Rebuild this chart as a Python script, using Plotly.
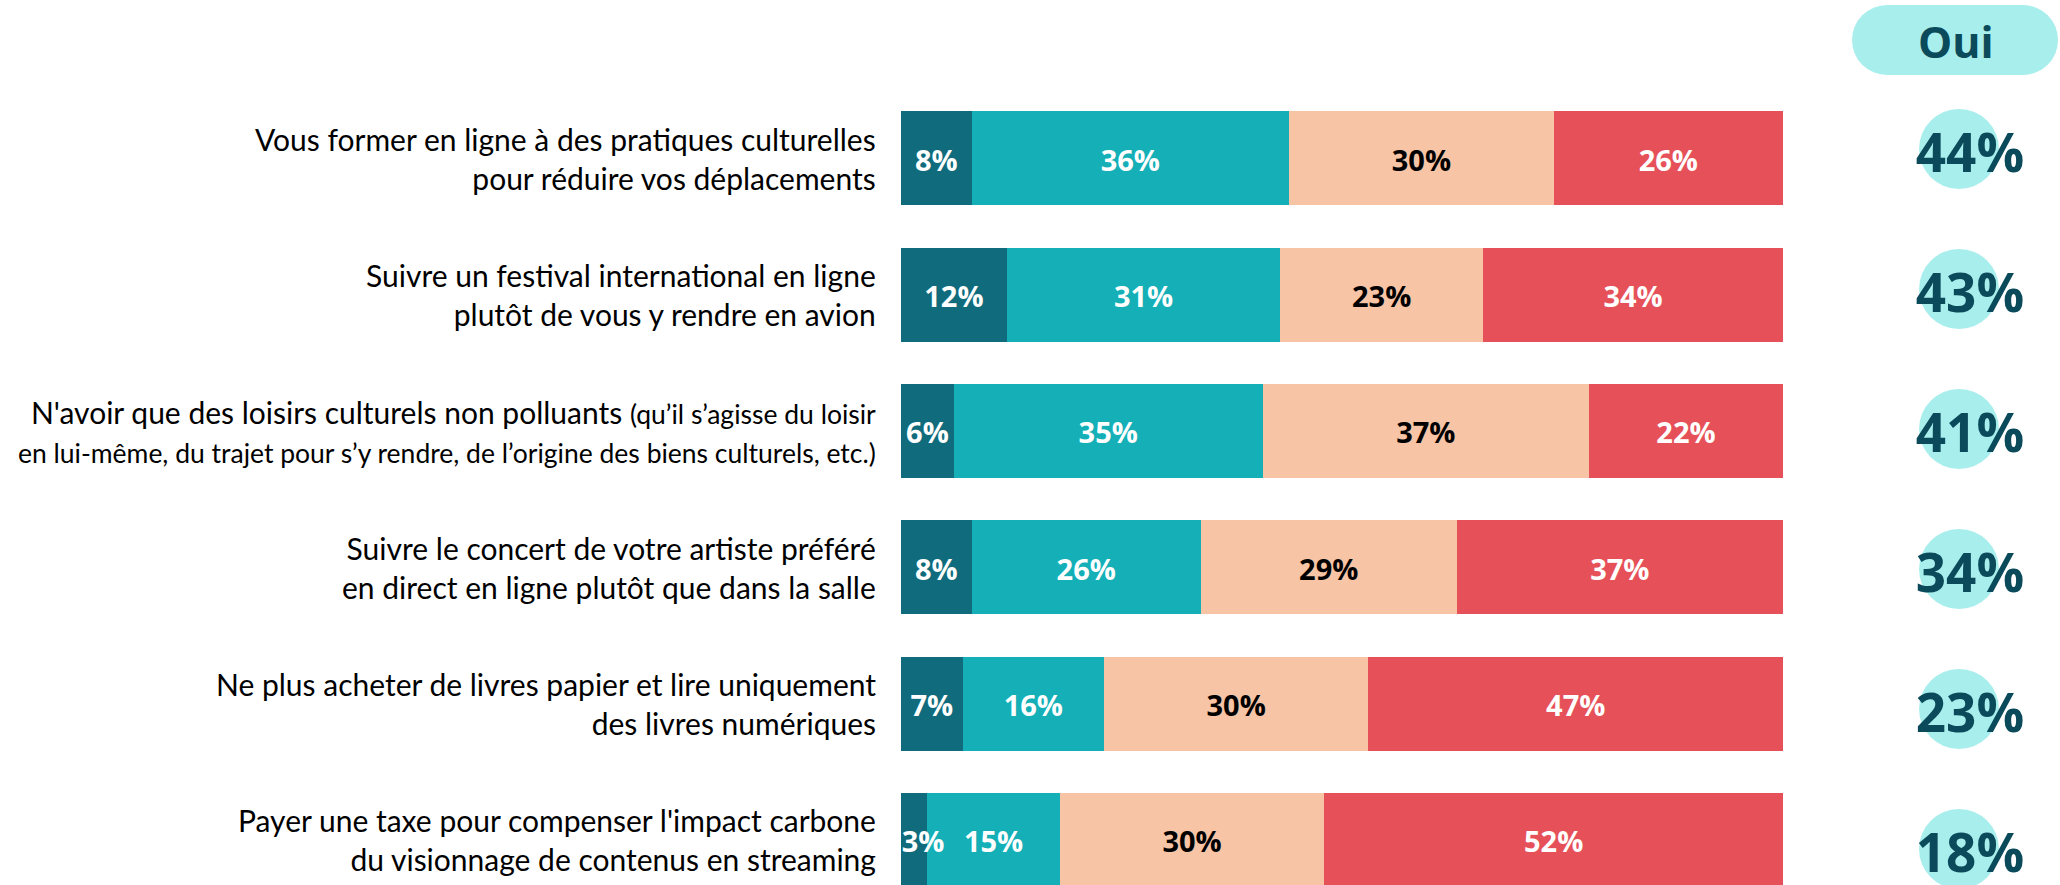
import plotly.graph_objects as go

# ---------------- data ----------------
categories = [
    "Vous former en ligne à des pratiques culturelles<br>pour réduire vos déplacements",
    "Suivre un festival international en ligne<br>plutôt de vous y rendre en avion",
    "N'avoir que des loisirs culturels non polluants <span style='font-size:26.5px'>(qu’il s’agisse du loisir</span><br><span style='font-size:26.5px'>en lui-même, du trajet pour s’y rendre, de l’origine des biens culturels, etc.)</span>",
    "Suivre le concert de votre artiste préféré<br>en direct en ligne plutôt que dans la salle",
    "Ne plus acheter de livres papier et lire uniquement<br>des livres numériques",
    "Payer une taxe pour compenser l'impact carbone<br>du visionnage de contenus en streaming",
]
series_names = ["Oui, certainement", "Oui, probablement", "Non, probablement pas", "Non, certainement pas"]
oui_certainement = [8, 12, 6, 8, 7, 3]
oui_probablement = [36, 31, 35, 26, 16, 15]
non_probablement = [30, 23, 37, 29, 30, 30]
non_certainement = [26, 34, 22, 37, 47, 52]
total_oui = [44, 43, 41, 34, 23, 18]
header_label = "Oui"

# ---------------- styles / geometry ----------------
W, H = 2060, 885
series_colors = ["#106b7d", "#14afb7", "#f7c4a5", "#e65058"]
text_colors = ["white", "white", "black", "white"]
circle_color = "#a8eeec"
dark_text = "#0b4a5a"

PX_X0 = 901.0        # pixel of 0 %
PX_PER_PCT = 8.82    # pixels per percentage point
ROW0_Y = 158.4       # pixel centre of first bar
ROW_STEP = 136.3     # pixels between bars
BAR_PX = 94.0
LABEL_DY_PX = 5.0    # vertical nudge of in-bar labels
LABEL_MIN_X = 2.5    # keep in-bar labels from leaving the bar at the left
CIRC_ROW0 = 149.0
CIRC_STEP = 140.0
CIRC_X_PX = 1959.0
CIRC_TEXT_X_PX = 1970.0
CIRC_TEXT_DY_PX = 10.0

x_range = [-PX_X0 / PX_PER_PCT, (W - PX_X0) / PX_PER_PCT]
y_range = [(H - ROW0_Y) / ROW_STEP, -ROW0_Y / ROW_STEP]
y2_range = [(H - CIRC_ROW0) / CIRC_STEP, -CIRC_ROW0 / CIRC_STEP]

def px_to_x(px):
    return (px - PX_X0) / PX_PER_PCT

idx = list(range(len(categories)))
series = [oui_certainement, oui_probablement, non_probablement, non_certainement]

fig = go.Figure()
starts = [0] * len(categories)
label_traces = []
for name, vals, col, tcol in zip(series_names, series, series_colors, text_colors):
    fig.add_trace(go.Bar(
        name=name,
        x=vals,
        y=idx,
        orientation="h",
        width=BAR_PX / ROW_STEP,
        marker=dict(color=col, line=dict(width=0)),
        hoverinfo="skip",
    ))
    mids = [max(s + v / 2, LABEL_MIN_X) for s, v in zip(starts, vals)]
    label_traces.append(go.Scatter(
        x=mids, y=[i + LABEL_DY_PX / ROW_STEP for i in idx], mode="text",
        text=[f"{v}%" for v in vals],
        textposition="middle center",
        textfont=dict(family="Open Sans", size=29, color=tcol, weight="bold"),
        hoverinfo="skip", showlegend=False, cliponaxis=False,
    ))
    starts = [s + v for s, v in zip(starts, vals)]

for tr in label_traces:
    fig.add_trace(tr)

# circles with total "Oui"
fig.add_trace(go.Scatter(
    x=[px_to_x(CIRC_X_PX)] * len(total_oui),
    y=idx,
    yaxis="y2",
    mode="markers",
    marker=dict(size=80, color=circle_color, line=dict(width=0)),
    hoverinfo="skip",
    showlegend=False,
))
fig.add_trace(go.Scatter(
    x=[px_to_x(CIRC_TEXT_X_PX)] * len(total_oui),
    y=[i + CIRC_TEXT_DY_PX / CIRC_STEP for i in idx],
    yaxis="y2",
    mode="text",
    text=[f"{v}%" for v in total_oui],
    textposition="middle center",
    textfont=dict(family="Open Sans", size=53, color=dark_text, weight="bold"),
    hoverinfo="skip",
    showlegend=False,
    cliponaxis=False,
))

annotations = []
for i, lab in zip(idx, categories):
    annotations.append(dict(
        xref="x", yref="y", x=0, y=i,
        xanchor="right", yanchor="middle", xshift=-23,
        text=lab, align="right", showarrow=False,
        font=dict(family="Lato", size=30, color="black"),
    ))
# header pill text
annotations.append(dict(
    xref="paper", yref="paper", x=1955.5 / W, y=1 - 41.7 / H,
    xanchor="center", yanchor="middle",
    text=header_label, showarrow=False,
    font=dict(family="Open Sans", size=43, color=dark_text, weight="bold"),
))

# pill shape (rect + two half circles)
pill_l, pill_r, pill_t, pill_b = 1852.0, 2058.0, 5.0, 75.0
rad = (pill_b - pill_t) / 2
shapes = [
    dict(type="rect", xref="paper", yref="paper",
         x0=(pill_l + rad) / W, x1=(pill_r - rad) / W,
         y0=1 - pill_b / H, y1=1 - pill_t / H,
         fillcolor=circle_color, line=dict(width=0), layer="below"),
    dict(type="circle", xref="paper", yref="paper",
         x0=pill_l / W, x1=(pill_l + 2 * rad) / W,
         y0=1 - pill_b / H, y1=1 - pill_t / H,
         fillcolor=circle_color, line=dict(width=0), layer="below"),
    dict(type="circle", xref="paper", yref="paper",
         x0=(pill_r - 2 * rad) / W, x1=pill_r / W,
         y0=1 - pill_b / H, y1=1 - pill_t / H,
         fillcolor=circle_color, line=dict(width=0), layer="below"),
]

fig.update_layout(
    width=W, height=H, autosize=False,
    margin=dict(l=0, r=0, t=0, b=0, pad=0),
    paper_bgcolor="white", plot_bgcolor="white",
    barmode="stack",
    showlegend=False,
    xaxis=dict(range=x_range, visible=False, fixedrange=True),
    yaxis=dict(range=y_range, visible=False, fixedrange=True),
    yaxis2=dict(range=y2_range, visible=False, overlaying="y", fixedrange=True),
    annotations=annotations,
    shapes=shapes,
)

fig.write_html(
    "out.html",
    config=dict(displayModeBar=False, staticPlot=True),
    post_script="document.body.style.margin='0';document.body.style.overflow='hidden';",
)
